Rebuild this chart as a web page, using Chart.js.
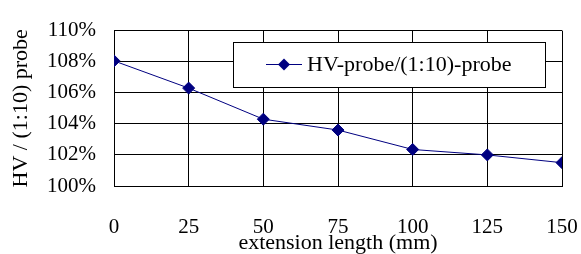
<!DOCTYPE html>
<html>
<head>
<meta charset="utf-8">
<script src="https://cdn.jsdelivr.net/npm/chart.js@4"></script>
<style>
  html, body { margin: 0; padding: 0; background: #fff; }
  #wrap { width: 581px; height: 254px; }
</style>
</head>
<body>
<div id="wrap"><canvas id="grafico"></canvas></div>
<script>
// datos
const longitudes = [0, 25, 50, 75, 100, 125, 150];
const razonHV = [108.05, 106.3, 104.3, 103.6, 102.35, 102.0, 101.5];
const etiquetaSerie = "HV-probe/(1:10)-probe";
const tituloX = "extension length (mm)";
const tituloY = "HV / (1:10) probe";

const fuente = "'Liberation Serif', 'Times New Roman', serif";

// leyenda dibujada dentro del área del gráfico
const leyendaInterna = {
    id: "leyendaInterna",
    afterDraw(chart) {
        const ctx = chart.ctx;
        const x0 = 233, y0 = 42, w = 312, h = 45;
        ctx.save();
        ctx.fillStyle = "#fff";
        ctx.fillRect(x0, y0, w, h);
        ctx.strokeStyle = "#000";
        ctx.lineWidth = 1;
        ctx.strokeRect(x0 + 0.5, y0 + 0.5, w, h);
        const cy = y0 + h / 2;
        ctx.strokeStyle = "#000080";
        ctx.beginPath();
        ctx.moveTo(266, cy);
        ctx.lineTo(302, cy);
        ctx.stroke();
        ctx.fillStyle = "#000080";
        ctx.beginPath();
        ctx.moveTo(284, cy - 6);
        ctx.lineTo(290, cy);
        ctx.lineTo(284, cy + 6);
        ctx.lineTo(278, cy);
        ctx.closePath();
        ctx.fill();
        ctx.fillStyle = "#000";
        ctx.font = "22px " + fuente;
        ctx.textBaseline = "middle";
        ctx.fillText(etiquetaSerie, 307, cy + 1);
        ctx.restore();
    }
};

new Chart(document.getElementById("grafico"), {
    type: "line",
    data: {
        datasets: [{
            label: etiquetaSerie,
            data: longitudes.map((x, i) => ({ x: x, y: razonHV[i] })),
            borderColor: "#000080",
            backgroundColor: "#000080",
            borderWidth: 1,
            pointStyle: "rectRot",
            pointRadius: 6,
            pointHoverRadius: 6,
            tension: 0
        }]
    },
    options: {
        responsive: true,
        maintainAspectRatio: false,
        animation: false,
        layout: { padding: { top: 15, right: 19, left: 0, bottom: 0 } },
        plugins: {
            legend: { display: false },
            tooltip: { enabled: false }
        },
        scales: {
            x: {
                type: "linear",
                min: 0,
                max: 150,
                afterFit(scale) {
                    scale.height = 68;
                    scale.paddingLeft = 0;
                    scale.paddingRight = 0;
                },
                ticks: {
                    stepSize: 25,
                    padding: 29,
                    color: "#000",
                    font: { family: fuente, size: 21 },
                    maxRotation: 0
                },
                grid: { color: "#000", drawTicks: false },
                border: { color: "#000", width: 1 },
                title: {
                    display: true,
                    text: tituloX,
                    color: "#000",
                    font: { family: fuente, size: 22 },
                    padding: { top: -9, bottom: -2 }
                }
            },
            y: {
                min: 100,
                max: 110,
                afterFit(scale) { scale.width = 114; },
                ticks: {
                    stepSize: 2,
                    padding: 18,
                    color: "#000",
                    font: { family: fuente, size: 21 },
                    callback: v => v + "%"
                },
                grid: { color: "#000", drawTicks: false },
                border: { color: "#000", width: 1 },
                title: {
                    display: true,
                    text: tituloY,
                    color: "#000",
                    font: { family: fuente, size: 22 },
                    padding: { top: 8, bottom: 0 }
                }
            }
        }
    },
    plugins: [leyendaInterna]
});
</script>
</body>
</html>
